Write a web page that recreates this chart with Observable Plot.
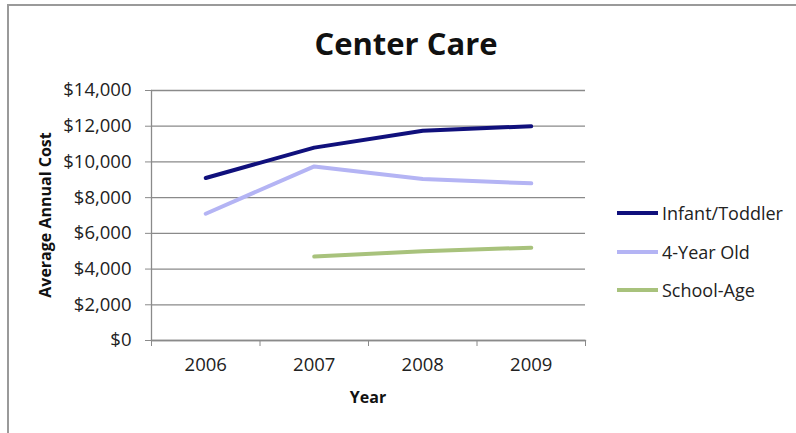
<!DOCTYPE html>
<html>
<head>
<meta charset="utf-8">
<script src="https://cdn.jsdelivr.net/npm/d3@7"></script>
<script src="https://cdn.jsdelivr.net/npm/@observablehq/plot@0.6"></script>
<style>
  html, body { margin: 0; padding: 0; background: #fff; }
  #wrap { position: relative; width: 796px; height: 433px; overflow: hidden; background: #fff; font-family: "Open Sans", sans-serif; color: #111; }
  #border { position: absolute; left: 7px; top: 4px; width: 820px; height: 460px; border-left: 2px solid #9a9a9a; border-top: 2px solid #9a9a9a; }
  #title { position: absolute; left: 0; top: 23px; width: 812px; text-align: center; font-size: 31px; line-height: 40px; font-weight: 700; }
  #ylabel { position: absolute; left: 45px; top: 215px; transform: translate(-50%, -50%) rotate(-90deg); font-size: 16px; font-weight: 700; white-space: nowrap; }
  #xlabel { position: absolute; left: 368px; top: 397px; transform: translate(-50%, -50%); font-size: 16px; font-weight: 700; white-space: nowrap; }
  #plot { position: absolute; left: 0; top: 0; }
  .leg { position: absolute; left: 617px; display: flex; align-items: center; height: 24px; font-size: 18px; white-space: nowrap; color: #222; }
  .leg .sw { width: 41px; height: 4px; margin-right: 4px; }
</style>
</head>
<body>
<div id="wrap">
  <div id="border"></div>
  <div id="title">Center Care</div>
  <div id="plot"></div>
  <div id="ylabel">Average Annual Cost</div>
  <div id="xlabel">Year</div>
</div>
<script>
const years = [2006, 2007, 2008, 2009];
const seriesNames = ["Infant/Toddler", "4-Year Old", "School-Age"];
const infantToddler = [9100, 10800, 11750, 12000];
const fourYearOld = [7100, 9750, 9050, 8800];
const schoolAge = [null, 4700, 5000, 5200];
const seriesColors = ["#10107c", "#b4b4f4", "#a8c27c"];
const yTicks = [0, 2000, 4000, 6000, 8000, 10000, 12000, 14000];

const seriesValues = [infantToddler, fourYearOld, schoolAge];
const table = [];
seriesNames.forEach((name, i) => {
  years.forEach((yr, j) => {
    const v = seriesValues[i][j];
    if (v != null) table.push({ series: name, year: yr, cost: v });
  });
});
const boundaries = years.map(y => y - 0.5).concat([years[years.length - 1] + 0.5]);

const chart = Plot.plot({
  width: 796,
  height: 433,
  marginLeft: 151,
  marginRight: 211,
  marginTop: 90,
  marginBottom: 93,
  style: { fontFamily: "Open Sans, sans-serif", fontSize: "18.5px", color: "#222", background: "transparent" },
  x: { domain: [boundaries[0], boundaries[boundaries.length - 1]] },
  y: { domain: [0, yTicks[yTicks.length - 1]] },
  color: { domain: seriesNames, range: seriesColors },
  marks: [
    Plot.gridY(yTicks, { stroke: "#8a8a8a", strokeOpacity: 1, strokeWidth: 1.3 }),
    Plot.frame({ anchor: "left", stroke: "#8a8a8a", strokeWidth: 1.3 }),
    Plot.frame({ anchor: "bottom", stroke: "#8a8a8a", strokeWidth: 1.3 }),
    Plot.axisY({ ticks: yTicks, tickFormat: d => "$" + d3.format(",")(d), tickSize: 6, tickPadding: 14, label: null, stroke: "#8a8a8a", fill: "#222" }),
    Plot.axisX({ ticks: boundaries, tickFormat: () => "", tickSize: 6, label: null, stroke: "#8a8a8a" }),
    Plot.axisX({ ticks: years, tickFormat: d => String(d), tickSize: 0, tickPadding: 17, label: null, fill: "#222" }),
    Plot.line(table, { x: "year", y: "cost", z: "series", stroke: "series", strokeWidth: 4, strokeLinejoin: "round" })
  ]
});
document.getElementById("plot").appendChild(chart);

const wrap = document.getElementById("wrap");
seriesNames.forEach((name, i) => {
  const item = document.createElement("div");
  item.className = "leg";
  item.style.top = (201 + i * 38.5) + "px";
  const sw = document.createElement("div");
  sw.className = "sw";
  sw.style.background = seriesColors[i];
  const tx = document.createElement("span");
  tx.textContent = name;
  item.appendChild(sw);
  item.appendChild(tx);
  wrap.appendChild(item);
});
</script>
</body>
</html>
